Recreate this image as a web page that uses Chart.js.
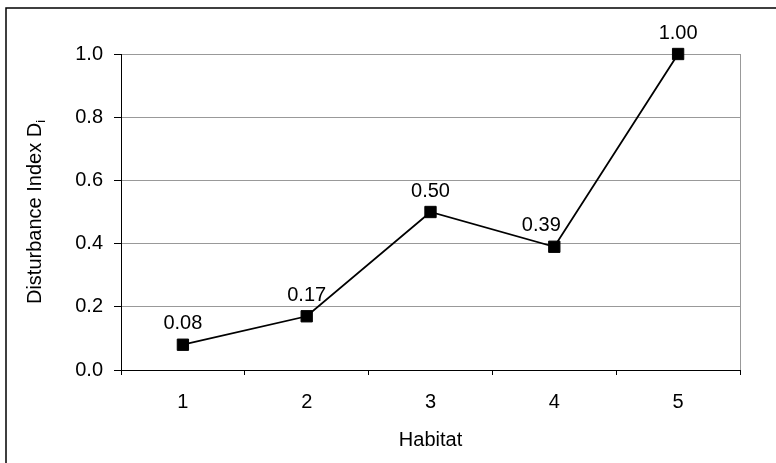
<!DOCTYPE html>
<html>
<head>
<meta charset="utf-8">
<script src="https://cdn.jsdelivr.net/npm/chart.js@4/dist/chart.umd.min.js"></script>
<style>
  body { margin: 0; background: #fff; }
  #wrap { width: 776px; height: 463px; position: relative; }
</style>
</head>
<body>
<div id="wrap"><canvas id="graph"></canvas></div>
<script>
// donnees
var habitats = ['1', '2', '3', '4', '5'];
var disturbance = [0.08, 0.17, 0.50, 0.39, 1.00];
var yTicks = [0, 0.2, 0.4, 0.6, 0.8, 1.0];

var FONT = "'Liberation Sans', Arial, sans-serif";
var SIZE = 20;

/**
 * Dessine le cadre, le titre de l'axe Y et les etiquettes des points
 */
var decorPlugin = {
    id: 'decor',
    afterDraw: function (chart) {
        let ctx = chart.ctx;
        let area = chart.chartArea;
        ctx.save();

        // cadre exterieur
        ctx.strokeStyle = '#000';
        ctx.lineWidth = 1.5;
        ctx.strokeRect(6, 8, 800, 500);

        // bord droit de la zone de trace
        ctx.strokeStyle = '#999';
        ctx.lineWidth = 1;
        ctx.beginPath();
        ctx.moveTo(area.right + 0.5, area.top);
        ctx.lineTo(area.right + 0.5, area.bottom);
        ctx.stroke();

        // titre axe Y avec indice
        let main = 'Disturbance Index D';
        ctx.font = SIZE + 'px ' + FONT;
        let w1 = ctx.measureText(main).width;
        ctx.font = '13px ' + FONT;
        let w2 = ctx.measureText('i').width;
        let total = w1 + w2;
        let cy = (area.top + area.bottom) / 2;
        ctx.translate(35, cy);
        ctx.rotate(-Math.PI / 2);
        ctx.fillStyle = '#000';
        ctx.textAlign = 'left';
        ctx.textBaseline = 'middle';
        ctx.font = SIZE + 'px ' + FONT;
        ctx.fillText(main, -total / 2, 0);
        ctx.font = '13px ' + FONT;
        ctx.fillText('i', -total / 2 + w1, 6);
        ctx.restore();

        // etiquettes des valeurs (celle du 4 est decalee a gauche comme dans Excel)
        ctx.save();
        ctx.font = SIZE + 'px ' + FONT;
        ctx.fillStyle = '#000';
        ctx.textAlign = 'center';
        ctx.textBaseline = 'middle';
        let meta = chart.getDatasetMeta(0);
        meta.data.forEach(function (pt, i) {
            let dx = (i === 3) ? -13 : 0;
            ctx.fillText(disturbance[i].toFixed(2), pt.x + dx, pt.y - 21);
        });
        ctx.restore();
    }
};

let ctx = document.getElementById('graph').getContext('2d');
let chart = new Chart(ctx, {
    type: 'line',
    data: {
        labels: habitats,
        datasets: [{
            data: disturbance,
            borderColor: '#000',
            borderWidth: 1.8,
            backgroundColor: '#000',
            pointStyle: 'rect',
            pointRadius: 8,
            pointBorderWidth: 1,
            pointBorderColor: '#000',
            pointBackgroundColor: '#000',
            tension: 0,
            fill: false,
            clip: false
        }]
    },
    options: {
        responsive: true,
        maintainAspectRatio: false,
        animation: false,
        layout: { padding: { top: 54, right: 36, left: 0, bottom: 0 } },
        plugins: {
            legend: { display: false },
            tooltip: { enabled: false }
        },
        scales: {
            x: {
                offset: true,
                afterFit: function (scale) { scale.height = 93; },
                grid: {
                    offset: true,
                    drawOnChartArea: false,
                    drawTicks: true,
                    tickLength: 5,
                    tickColor: '#000'
                },
                border: { color: '#000', width: 1 },
                ticks: {
                    padding: 15,
                    color: '#000',
                    font: { family: FONT, size: SIZE, lineHeight: 1.2 }
                },
                title: {
                    display: true,
                    text: 'Habitat',
                    color: '#000',
                    padding: { top: 0, bottom: 11 },
                    font: { family: FONT, size: SIZE, lineHeight: 1.2 }
                }
            },
            y: {
                min: 0,
                max: 1,
                afterFit: function (scale) { scale.width = 121; },
                afterBuildTicks: function (scale) {
                    scale.ticks = yTicks.map(function (v) { return { value: v }; });
                },
                grid: {
                    color: function (c) { return c.tick && c.tick.value === 0 ? '#000' : '#999'; },
                    tickColor: '#000',
                    tickLength: 7,
                    drawTicks: true
                },
                border: { color: '#000', width: 1 },
                ticks: {
                    padding: 11,
                    color: '#000',
                    font: { family: FONT, size: SIZE, lineHeight: 1.2 },
                    callback: function (v) { return Number(v).toFixed(1); }
                }
            }
        }
    },
    plugins: [decorPlugin]
});
</script>
</body>
</html>
